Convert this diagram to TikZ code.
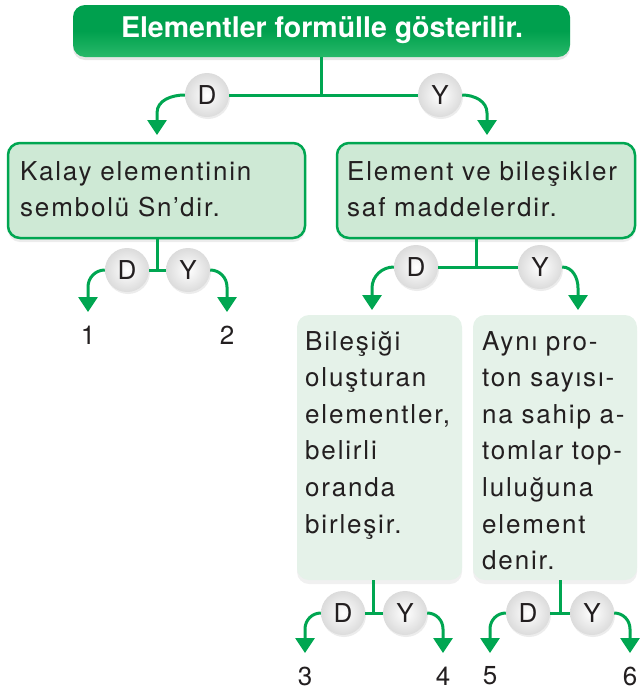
\documentclass[tikz,border=0pt]{standalone}
\usepackage{fontspec}
\setmainfont{TeX Gyre Heros}
\newfontfamily\bodyfont{TeX Gyre Heros}[LetterSpace=7]
\usetikzlibrary{arrows.meta,shadows,calc}
\definecolor{lgreen}{RGB}{0,166,81}
\definecolor{dgreen}{RGB}{0,160,78}
\definecolor{dgreenb}{RGB}{40,185,105}
\definecolor{boxfill}{RGB}{206,233,213}
\definecolor{lowfill}{RGB}{229,242,233}
\definecolor{txt}{RGB}{35,31,32}
\begin{document}
\begin{tikzpicture}[x=1pt,y=-1pt,
  conn/.style={line width=3pt, draw=lgreen},
  arr/.style={conn, -{Triangle[width=19pt,length=15pt]}},
  titlebox/.style={rectangle, rounded corners=12pt, minimum width=497pt, minimum height=52pt,
    top color=dgreen, bottom color=dgreenb, middle color=dgreen, draw=none,
    drop shadow={opacity=0.2, shadow xshift=0pt, shadow yshift=-3pt}},
  qbox/.style={rectangle, rounded corners=12pt, fill=boxfill, draw=lgreen, line width=2.5pt,
    drop shadow={opacity=0.15, shadow xshift=0pt, shadow yshift=-4pt}},
  lowbox/.style={rectangle, rounded corners=12pt, fill=lowfill, draw=none,
    minimum width=165pt, minimum height=265pt,
    drop shadow={opacity=0.12, shadow xshift=0pt, shadow yshift=-4pt}},
  bodytext/.style={font=\bodyfont\fontsize{26}{36.6}\selectfont, text=txt, inner sep=0pt,
    align=left, anchor=base west, text width=300pt},
  dy/.style={circle, minimum size=44pt, inner sep=0pt, font=\fontsize{26}{30}\selectfont, text=txt,
    inner color=white, outer color=black!14,
    drop shadow={opacity=0.15, shadow xshift=1pt, shadow yshift=-2pt}},
  num/.style={font=\fontsize{26}{30}\selectfont, text=txt, inner sep=0pt}
]
\useasboundingbox (0,0) rectangle (642,697);

% title
\node[titlebox] (top) at (321.5,31) {};
\node[font=\bfseries\fontsize{28.5}{32}\selectfont, text=white, anchor=base, inner sep=0pt] (toptext) at (322,37) {Elementler formülle gösterilir.};

% boxes
\node[qbox, minimum width=297pt, minimum height=95pt] (b1) at (156.5,190.5) {};
\node[bodytext] (t1) at (20,180) {Kalay elementinin\\sembolü Sn’dir.};
\node[qbox, minimum width=298pt, minimum height=95pt] (b2) at (486,190.5) {};
\node[bodytext] (t2) at (347,180) {Element ve bileşikler\\saf maddelerdir.};

\node[lowbox] (b3) at (379.5,447.5) {};
\node[bodytext] (t3) at (305,350) {Bileşiği\\oluşturan\\elementler,\\belirli\\oranda\\birleşir.};
\node[lowbox, minimum width=164pt] (b4) at (555,447.5) {};
\node[bodytext] (t4) at (482,350) {Aynı pro-\\ton sayısı-\\na sahip a-\\tomlar top-\\luluğuna\\element\\denir.};

% split 0 (title)
\node[dy] (d0) at (207,95) {D};
\node[dy] (y0) at (440,95) {Y};
\coordinate (j0) at (top.south |- d0);
\coordinate (a0) at (157,135);
\coordinate (c0) at (487,135);
\draw[conn] (top.south) -- (j0);
\draw[conn] (d0) -- (y0);
\draw[arr] (d0.west) to[out=180,in=90] ($(a0)+(0,-22)$) -- (a0);
\draw[arr] (y0.east) to[out=0,in=90] ($(c0)+(0,-22)$) -- (c0);

% split 1
\node[dy] (d1) at (127,270) {D};
\node[dy] (y1) at (188,270) {Y};
\coordinate (j1) at (157,270);
\coordinate (a1) at (88,312);
\coordinate (c1) at (227,312);
\draw[conn] (j1 |- b1.south) -- (j1);
\draw[conn] (d1) -- (y1);
\draw[arr] (d1.west) to[out=180,in=90] ($(a1)+(0,-25)$) -- (a1);
\draw[arr] (y1.east) to[out=0,in=90] ($(c1)+(0,-25)$) -- (c1);
\node[num] (n1) at (88,335) {1};
\node[num] (n2) at (227,335) {2};

% split 2
\node[dy] (d2) at (416,267) {D};
\node[dy] (y2) at (540,267) {Y};
\coordinate (j2) at (476,267);
\coordinate (a2) at (372,310);
\coordinate (c2) at (578,310);
\draw[conn] (j2 |- b2.south) -- (j2);
\draw[conn] (d2) -- (y2);
\draw[arr] (d2.west) to[out=180,in=90] ($(a2)+(0,-22)$) -- (a2);
\draw[arr] (y2.east) to[out=0,in=90] ($(c2)+(0,-22)$) -- (c2);

% split 3
\node[dy] (d3) at (343,613) {D};
\node[dy] (y3) at (405,613) {Y};
\coordinate (j3) at (373,613);
\coordinate (a3) at (305,653);
\coordinate (c3) at (443,653);
\draw[conn] (j3 |- b3.south) -- (j3);
\draw[conn] (d3) -- (y3);
\draw[arr] (d3.west) to[out=180,in=90] ($(a3)+(0,-24)$) -- (a3);
\draw[arr] (y3.east) to[out=0,in=90] ($(c3)+(0,-24)$) -- (c3);
\node[num] (n3) at (305,676) {3};
\node[num] (n4) at (443,676) {4};

% split 4
\node[dy] (d4) at (528,613) {D};
\node[dy] (y4) at (592,613) {Y};
\coordinate (j4) at (560,613);
\coordinate (a4) at (490,653);
\coordinate (c4) at (630,653);
\draw[conn] (j4 |- b4.south) -- (j4);
\draw[conn] (d4) -- (y4);
\draw[arr] (d4.west) to[out=180,in=90] ($(a4)+(0,-24)$) -- (a4);
\draw[arr] (y4.east) to[out=0,in=90] ($(c4)+(0,-24)$) -- (c4);
\node[num] (n5) at (490,676) {5};
\node[num] (n6) at (630,676) {6};
\end{tikzpicture}
\end{document}
